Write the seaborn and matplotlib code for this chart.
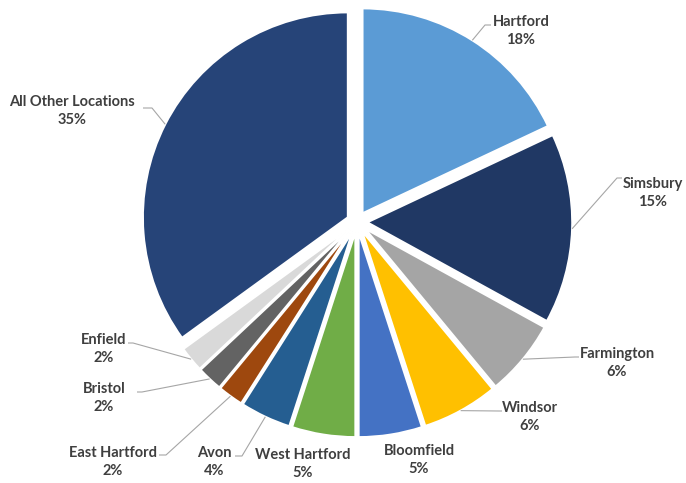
import numpy as np
import matplotlib
matplotlib.use("Agg")
import matplotlib.pyplot as plt
import seaborn as sns

# Share of records by location (percent)
locations = ["Hartford", "Simsbury", "Farmington", "Windsor", "Bloomfield",
             "West Hartford", "Avon", "East Hartford", "Bristol", "Enfield",
             "All Other Locations"]
shares = [18, 15, 6, 6, 5, 5, 4, 2, 2, 2, 35]
colors = ["#5B9BD5", "#203864", "#A5A5A5", "#FFC000", "#4472C4", "#70AD47",
          "#255E91", "#9E480E", "#636363", "#D9D9D9", "#264478"]

sns.set_theme(style="white")
plt.rcParams["font.family"] = ["Lato", "DejaVu Sans"]

W, H = 686, 483
fig = plt.figure(figsize=(W / 100, H / 100), dpi=100)
ax = fig.add_axes([0, 0, 1, 1])

# pixel geometry of the pie (radius and centre in figure pixels)
R = 205
cx, cy = 357, 222


def to_data(x, y):
    return (x - cx) / R, (cy - y) / R


wedges, _ = ax.pie(shares, colors=colors, startangle=90, counterclock=False,
                   explode=[0.05] * len(shares),
                   wedgeprops=dict(edgecolor="white", linewidth=1.5))
ax.set_xlim(-cx / R, (W - cx) / R)
ax.set_ylim(-(H - cy) / R, cy / R)
ax.set_aspect("auto")
ax.axis("off")

# label block centre, leader elbow and hook end (pixels); None = no leader
label_layout = {
    "Hartford": ((521, 31), (485, 25), 491),
    "Simsbury": ((653, 193), (617, 178), 622),
    "Farmington": ((617, 363), (575, 357), 579),
    "Windsor": ((530, 417), (499, 411), 502),
    "Bloomfield": ((419, 460), None, None),
    "West Hartford": ((303, 464), None, None),
    "Avon": ((214, 462), (242, 456), 235),
    "East Hartford": ((113, 462), (166, 455), 159),
    "Bristol": ((104, 398), (142, 392), 137),
    "Enfield": ((104, 349), (133, 343), 128),
    "All Other Locations": ((72, 111), (152, 108), 143),
}

text_color = "#3F3F3F"
leader_color = "#A6A6A6"

for w, name, val in zip(wedges, locations, shares):
    (tx, ty), elbow, hook = label_layout[name]
    ax.text(*to_data(tx, ty), f"{name}\n{val}%", ha="center", va="center",
            multialignment="center", fontsize=10.5, fontweight="bold",
            color=text_color, linespacing=1.4)
    if elbow is None:
        continue
    mid = np.deg2rad((w.theta1 + w.theta2) / 2)
    ax0 = w.center[0] + w.r * np.cos(mid)
    ay0 = w.center[1] + w.r * np.sin(mid)
    ex, ey = to_data(*elbow)
    hx, _ = to_data(hook, elbow[1])
    ax.plot([ax0, ex, hx], [ay0, ey, ey], color=leader_color, lw=0.8,
            solid_capstyle="butt", zorder=1)

fig.savefig("out.png", dpi=100, facecolor="white")
